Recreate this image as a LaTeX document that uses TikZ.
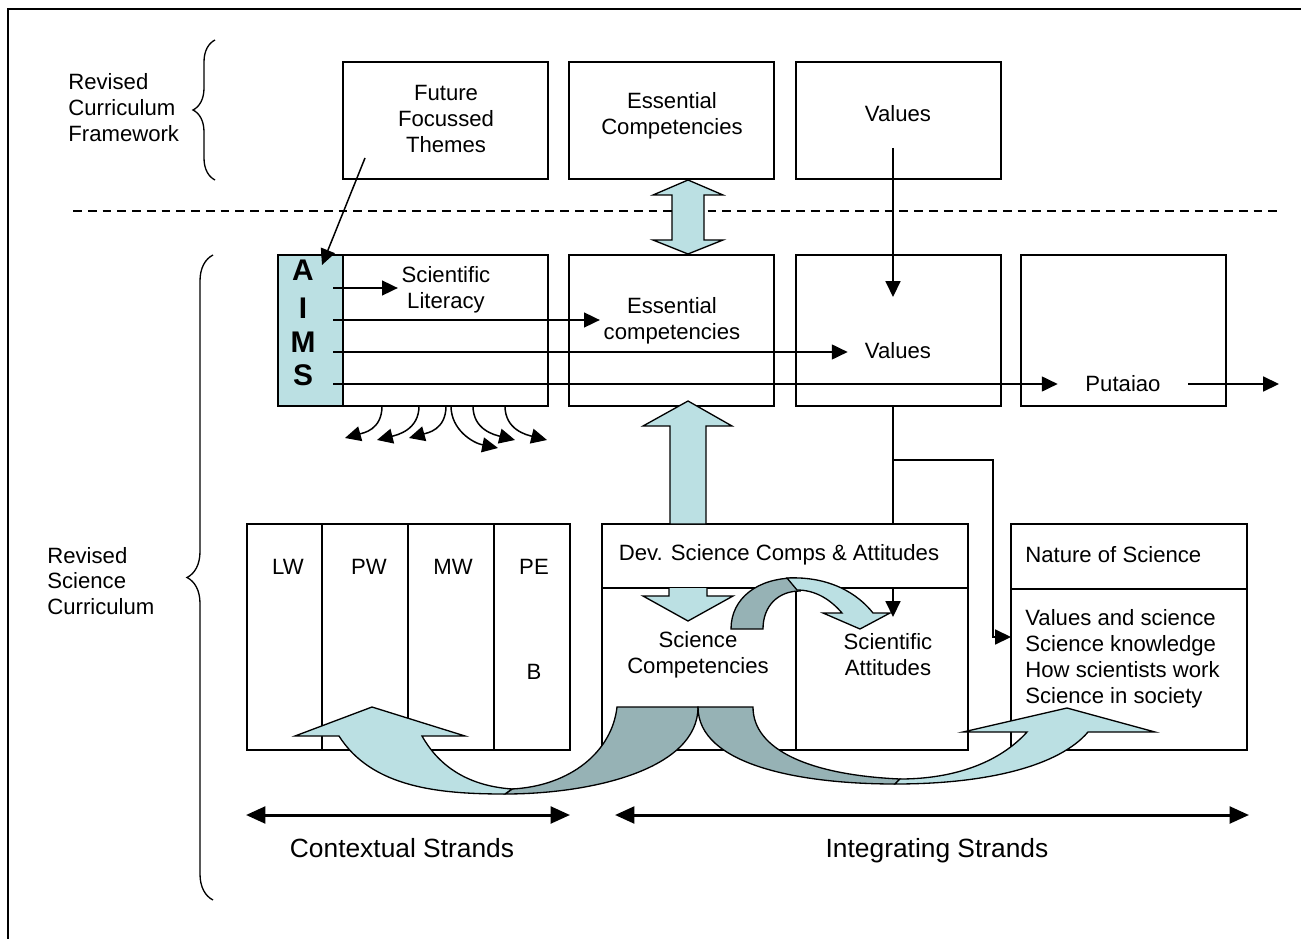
\documentclass[tikz,border=0pt]{standalone}
\usepackage{fontspec}
\setmainfont{Liberation Sans}
\usetikzlibrary{arrows.meta,decorations.pathreplacing}

\definecolor{aimsblue}{RGB}{187,224,227}
\definecolor{twistgrey}{RGB}{150,178,181}
\newcommand{\boxfont}{\fontsize{12.6}{14.75}\selectfont}
\newcommand{\strandfont}{\fontsize{15}{18}\selectfont}

\tikzset{
  boxline/.style={draw, line width=0.75pt, fill=white, inner sep=0pt},
  rowone/.style={boxline, minimum width=4.1cm, minimum height=2.34cm},
  rowtwo/.style={boxline, minimum width=4.1cm, minimum height=3.02cm},
  txt/.style={font=\boxfont, align=center, inner sep=2pt},
  lefttxt/.style={font=\boxfont, align=left, anchor=west, inner sep=0pt},
  arr/.style={line width=0.85pt, -{Triangle[length=9pt,width=8.5pt]}},
  blockarrow/.style={draw, fill=aimsblue, line width=0.75pt, line join=miter},
  twistfill/.style={draw, fill=twistgrey, line width=0.75pt},
  curlybrace/.style={decorate, decoration={brace, amplitude=#1}, line width=0.75pt},
  strandarr/.style={line width=1.7pt, {Triangle[length=11pt,width=9.5pt]}-{Triangle[length=11pt,width=9.5pt]}},
}

\begin{document}
\begin{tikzpicture}[x=0.02cm, y=-0.02cm]
    \useasboundingbox (0,0) rectangle (1301,939);
    \draw[line width=0.75pt] (8,939) -- (8,9) -- (1301,9);

    % side labels
    \node[lefttxt] (rcf) at (68,108) {Revised\\Curriculum\\Framework};
    \draw[curlybrace=0.44cm] (215,180) -- (215,40);
    \node[lefttxt] (rsc) at (47,581) {Revised\\Science\\Curriculum};
    \draw[curlybrace=0.52cm] (213,900) -- (213,255);

    % framework row
    \node[rowone] (ffbox) at (445.5,120.5) {};
    \node[rowone] (ecbox) at (671.5,120.5) {};
    \node[rowone] (valbox) at (898.5,120.5) {};
    \node[txt] (fft) at (446,119) {Future\\Focussed\\Themes};
    \node[txt] (ect) at (672,116) {Essential\\Competencies};
    \node[txt] (valt) at (898,114) {Values};

    \draw[line width=0.6pt, dash pattern=on 5pt off 3.4pt] (73,211) -- (1280,211);

    % science curriculum row
    \node[boxline, fill=aimsblue, minimum width=1.3cm, minimum height=3.02cm] (aims) at (310.5,330.5) {};
    \foreach \l/\y in {A/270,I/308,M/342,S/375}
        \node[font=\bfseries\fontsize{17}{20}\selectfont, inner sep=0pt] (aims\l) at (303,\y) {\l};
    \node[rowtwo] (slbox) at (445.5,330.5) {};
    \node[rowtwo] (ecbox2) at (671.5,330.5) {};
    \node[rowtwo] (valbox2) at (898.5,330.5) {};
    \node[rowtwo] (putbox) at (1123.5,330.5) {};
    \node[txt] (slt) at (446,290) {Scientific\\Literacy};
    \node[txt] (ect2) at (672,321) {Essential\\competencies};
    \node[txt, minimum width=2cm] (valt2) at (898,351) {Values};
    \node[txt, minimum width=2.6cm] (putt) at (1123,384) {Putaiao};

    % strands
    \node[boxline, minimum width=1.5cm, minimum height=4.52cm] (lw) at (284.5,637) {};
    \node[boxline, minimum width=1.72cm, minimum height=4.52cm] (pw) at (365,637) {};
    \node[boxline, minimum width=1.72cm, minimum height=4.52cm] (mw) at (451,637) {};
    \node[boxline, minimum width=1.52cm, minimum height=4.52cm] (pe) at (532,637) {};
    \node[txt] (lwt) at (288,567) {LW};
    \node[txt] (pwt) at (369,567) {PW};
    \node[txt] (mwt) at (453,567) {MW};
    \node[txt] (pet) at (534,567) {PE};
    \node[txt] (bt) at (534,672) {B};

    \node[boxline, minimum width=3.88cm, minimum height=3.24cm] (compbox) at (699,669) {};
    \node[boxline, minimum width=3.44cm, minimum height=3.24cm] (attbox) at (882,669) {};
    \node[boxline, minimum width=7.32cm, minimum height=1.28cm] (devhead) at (785,556) {};
    \node[txt] (devt) at (779,555) {Dev. Science Comps \& Attitudes};
    \node[txt] (compt) at (698,655) {Science\\Competencies};
    \node[txt] (attt) at (888,655) {Scientific\\Attitudes};

    \node[boxline, minimum width=4.72cm, minimum height=1.3cm] (noshead) at (1129,556.5) {};
    \node[boxline, minimum width=4.72cm, minimum height=3.22cm] (nosbody) at (1129,669.5) {};
    \node[lefttxt] (nost) at (1025,555) {Nature of Science};
    \node[lefttxt] (noslist) at (1025,659) {Values and science\\Science knowledge\\How scientists work\\Science in society};

    \coordinate (ctxl) at (246,815);
    \coordinate (ctxr) at (570,815);
    \coordinate (intl) at (615,815);
    \coordinate (intr) at (1249,815);
    \draw[strandarr] (ctxl) -- (ctxr);
    \draw[strandarr] (intl) -- (intr);
    \node[font=\strandfont, anchor=base] (ctxt) at (402,857) {Contextual Strands};
    \node[font=\strandfont, anchor=base] (intt) at (937,857) {Integrating Strands};

    % block arrows
    \draw[blockarrow] (688,180) -- (723,195) -- (704,195) -- (704,240) -- (723,240) -- (688,254)
        -- (653,240) -- (672,240) -- (672,195) -- (653,195) -- cycle;
    \draw[blockarrow] (688,401) -- (732,426) -- (706,426) -- (706,524) -- (670,524) -- (670,426) -- (643,426) -- cycle;
    \draw[blockarrow] (669,588) -- (669,596) -- (643,596) -- (688,621) -- (733,596) -- (707,596) -- (707,588);

    \draw[twistfill] (731,629) .. controls (731,598) and (758,578) .. (795,578) -- (800,591)
        .. controls (778,591) and (763,606) .. (763,629) -- cycle;
    \draw[blockarrow] (787,578) .. controls (830,576) and (858,594) .. (873,613) -- (890,613) -- (860,629)
        -- (823,613) -- (842,613) .. controls (830,599) and (815,590) .. (797,590) -- cycle;

    \draw[twistfill] (505,794) .. controls (590,794) and (698,770) .. (698,707) -- (617,707)
        .. controls (612,752) and (570,786) .. (512,789) -- cycle;
    \draw[blockarrow] (339,736) .. controls (372,788) and (440,794) .. (505,794) -- (512,789)
        .. controls (470,786) and (440,768) .. (422,736) -- (465,736) -- (372,707) -- (295,736) -- cycle;
    \draw[twistfill] (698,707) .. controls (698,765) and (800,784) .. (895,784) -- (900,779)
        .. controls (810,775) and (753,750) .. (753,707) -- cycle;
    \draw[blockarrow] (895,784) .. controls (990,784) and (1060,765) .. (1088,732) -- (1155,732) -- (1067,708)
        -- (963,732) -- (1027,732) .. controls (1000,762) and (955,779) .. (900,779) -- cycle;

    % arrows
    \coordinate (ffout) at (365,158);
    \coordinate (aimsin) at (322,265);
    \draw[arr] (ffout) -- (aimsin);
    \coordinate (valout) at (893,148);
    \coordinate (valin) at (893,297);
    \draw[arr] (valout) -- (valin);

    \coordinate (sA) at (333,288);
    \coordinate (sI) at (333,320);
    \coordinate (sM) at (333,352);
    \coordinate (sS) at (333,384);
    \draw[arr] (sA) -- (sA -| slt.west);
    \draw[arr] (sI) -- (sI -| ect2.west);
    \draw[arr] (sM) -- (sM -| valt2.west);
    \draw[arr] (sS) -- (sS -| putt.west);
    \coordinate (putout) at (1279,384);
    \draw[arr] (putt.east) -- (putout);

    \foreach \sx/\ex/\ey/\dx in {382/345/438/18, 419/377/440/20, 446/409/438/18,
                                 451/498/448/-25, 473/515/440/-20, 505/547/440/-20}
        \draw[arr] (\sx,406) .. controls (\sx,430) and (\ex+\dx,\ey-5) .. (\ex,\ey);

    \draw[line width=0.85pt] (valbox2.south -| valout) -- (devhead.north -| valout);
    \coordinate (attin) at (893,617);
    \draw[arr] (devhead.south -| valout) -- (attin);
    \coordinate (vb) at (893,460);
    \coordinate (nosin) at (1011,637);
    \draw[arr] (vb) -- ++(100,0) |- (nosin);
\end{tikzpicture}
\end{document}
